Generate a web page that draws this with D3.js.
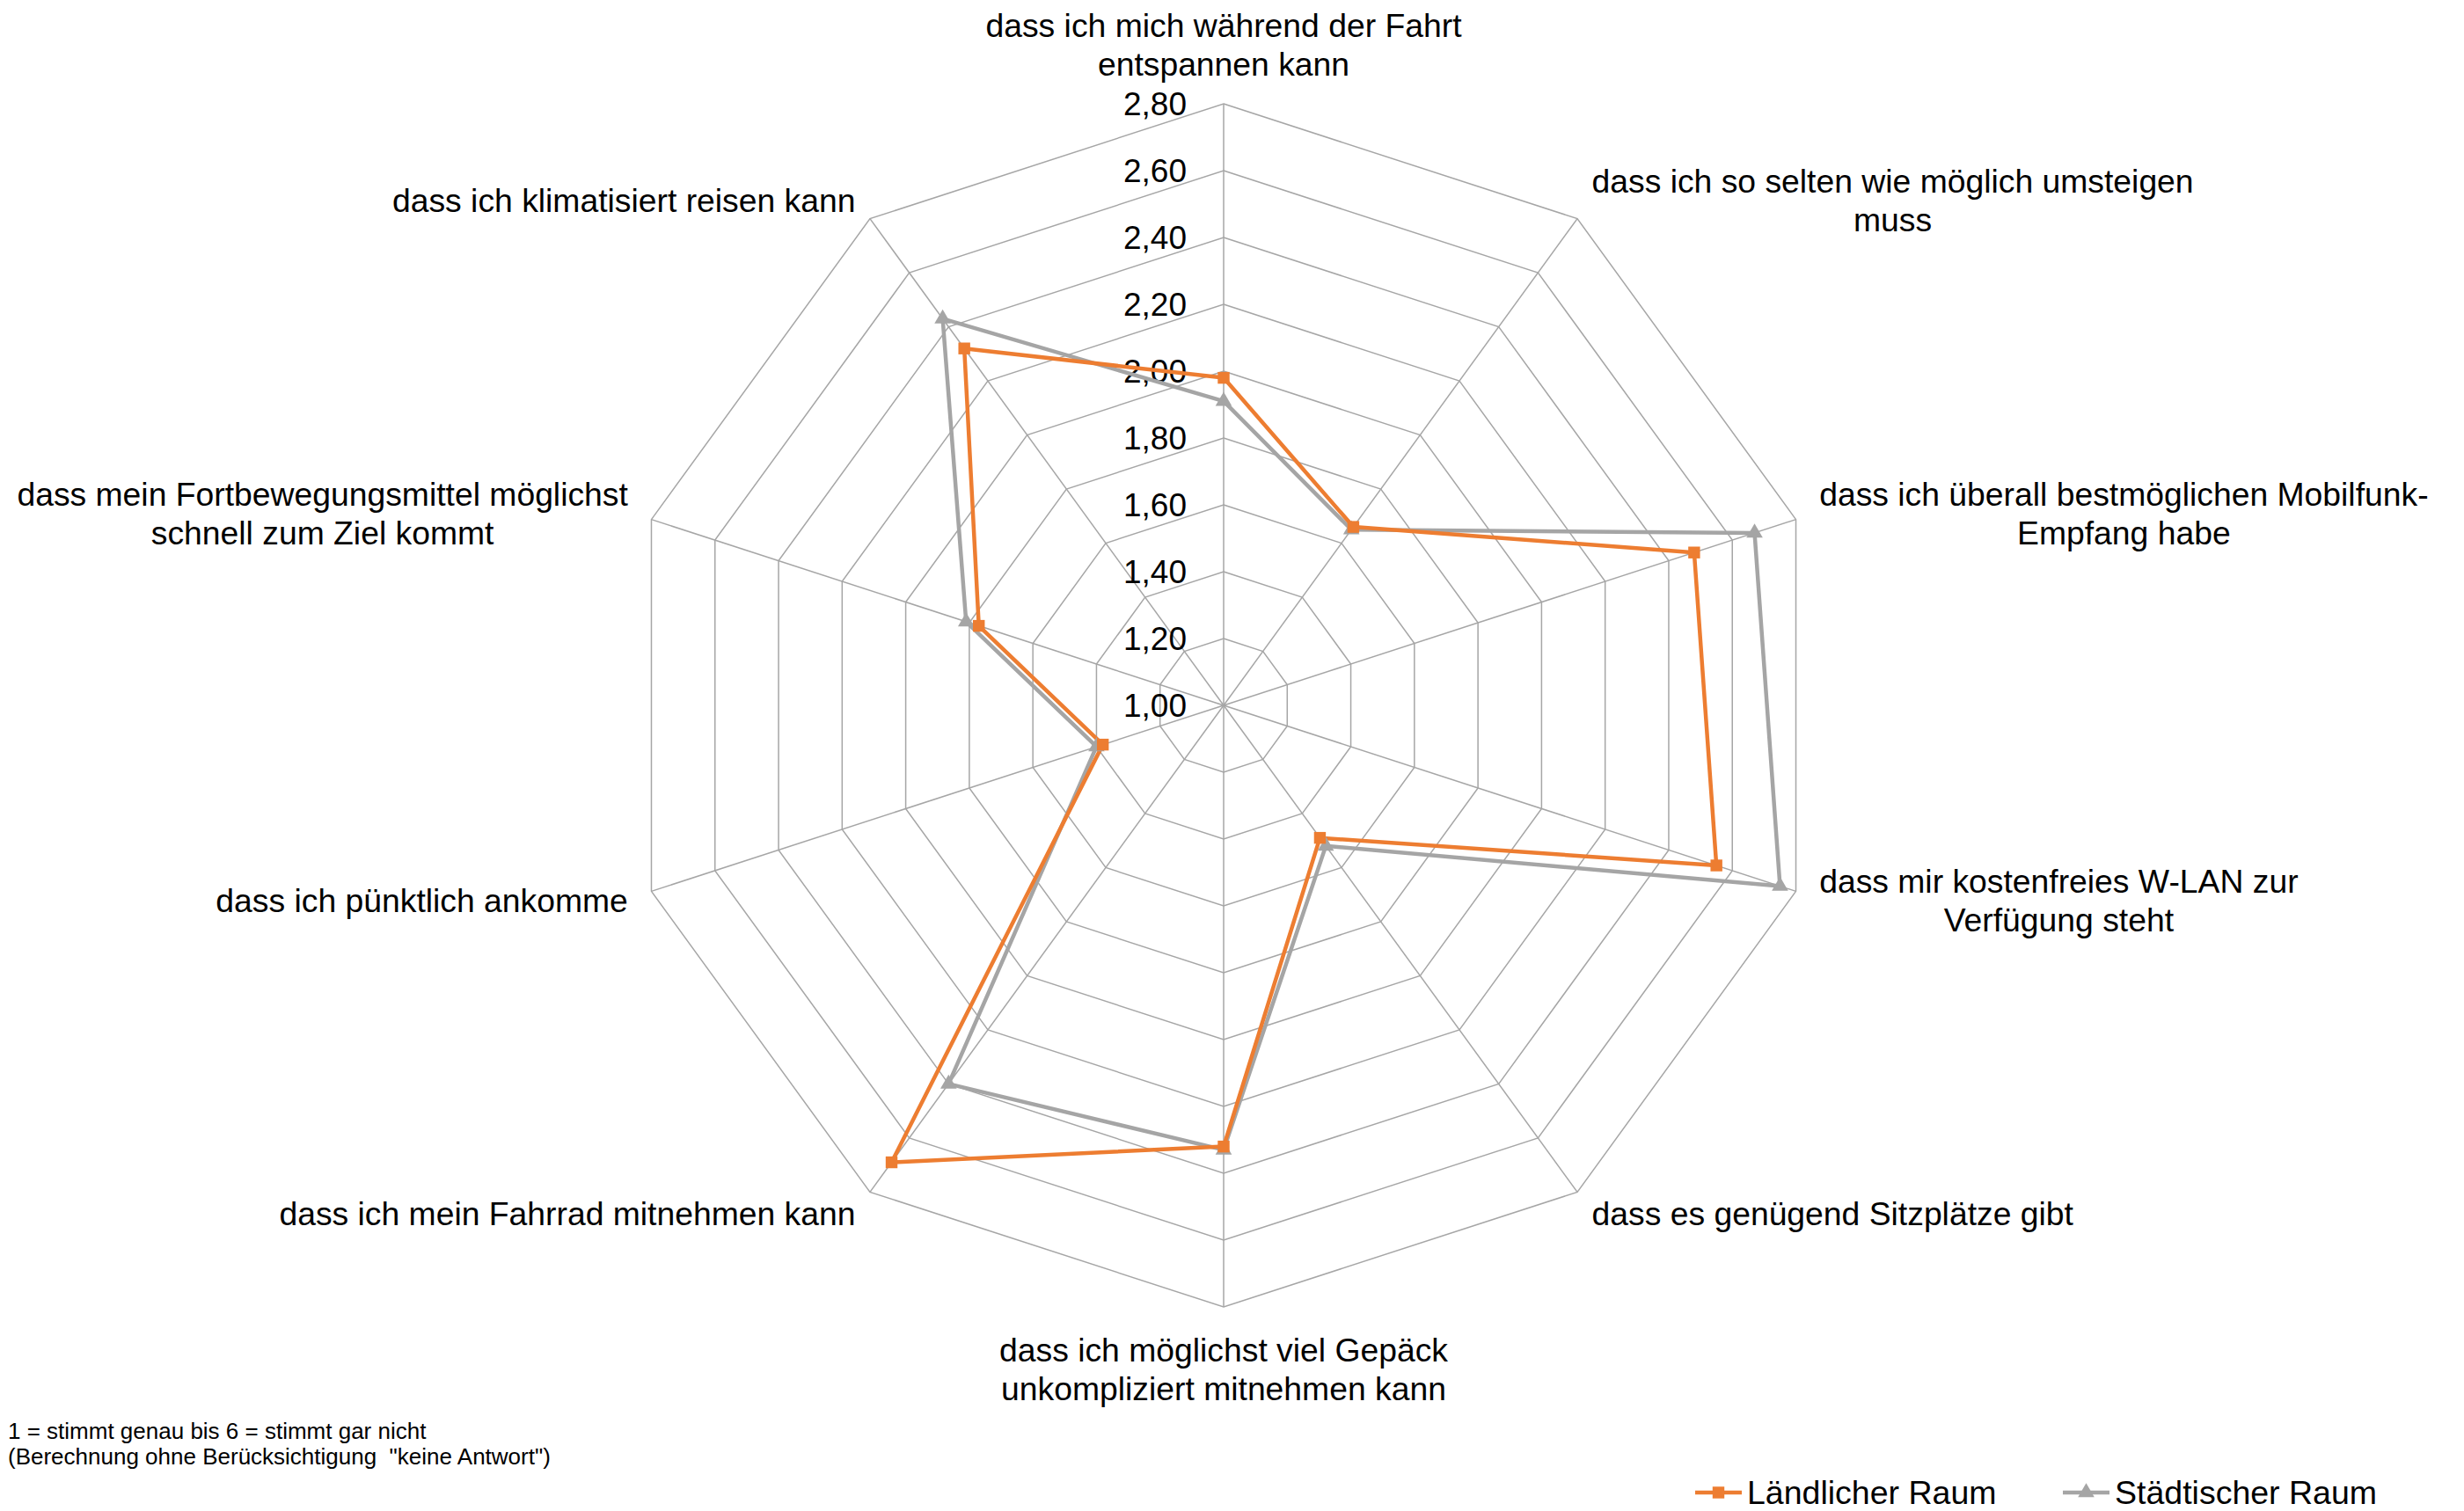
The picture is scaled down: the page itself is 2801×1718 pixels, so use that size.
<!DOCTYPE html>
<html>
<head>
<meta charset="utf-8">
<script src="https://cdn.jsdelivr.net/npm/d3@7"></script>
<style>
  body { margin: 0; background: #fff; }
  svg { display: block; font-family: "Liberation Sans", Arial, sans-serif; }
</style>
</head>
<body>
<svg id="chart" width="2801" height="1718"></svg>
<script>
// categories, clockwise from the top (one array entry per text line)
var categories = [
  ["dass ich mich während der Fahrt", "entspannen kann"],
  ["dass ich so selten wie möglich umsteigen", "muss"],
  ["dass ich überall bestmöglichen Mobilfunk-", "Empfang habe"],
  ["dass mir kostenfreies W-LAN zur", "Verfügung steht"],
  ["dass es genügend Sitzplätze gibt"],
  ["dass ich möglichst viel Gepäck", "unkompliziert mitnehmen kann"],
  ["dass ich mein Fahrrad mitnehmen kann"],
  ["dass ich pünktlich ankomme"],
  ["dass mein Fortbewegungsmittel möglichst", "schnell zum Ziel kommt"],
  ["dass ich klimatisiert reisen kann"]
];

var laendlich = [1.98, 1.66, 2.48, 2.55, 1.49, 2.32, 2.69, 1.38, 1.77, 2.32];
var staedtisch = [1.91, 1.65, 2.67, 2.75, 1.52, 2.33, 2.40, 1.40, 1.81, 2.43];

var seriesNames = ["Ländlicher Raum", "Städtischer Raum"];
var tickValues = [1.0, 1.2, 1.4, 1.6, 1.8, 2.0, 2.2, 2.4, 2.6, 2.8];
var footnote = ["1 = stimmt genau bis 6 = stimmt gar nicht",
                "(Berechnung ohne Berücksichtigung  \"keine Antwort\")"];

var orange = "#ED7D31", grey = "#A5A5A5", gridColor = "#A6A6A6";

var svg = d3.select("#chart");
var cx = 1391, cy = 802, R = 684;

var r = d3.scaleLinear().domain([1, 2.8]).range([0, R]);
var angle = d3.scaleLinear().domain([0, categories.length]).range([0, 2 * Math.PI]);

function px(i, v) { return cx + Math.sin(angle(i)) * r(v); }
function py(i, v) { return cy - Math.cos(angle(i)) * r(v); }

var g = svg.append("g").attr("transform", "translate(" + cx + "," + cy + ")");

// rings
var ring = d3.lineRadial()
  .angle(function(d, i) { return angle(i); })
  .radius(function(d) { return r(d); })
  .curve(d3.curveLinearClosed);

g.selectAll(".ring")
  .data(tickValues.slice(1))
  .enter().append("path")
  .attr("class", "ring")
  .attr("d", function(t) { return ring(categories.map(function() { return t; })); })
  .style("fill", "none")
  .style("stroke", gridColor)
  .style("stroke-width", 1.5);

// spokes
g.selectAll(".spoke")
  .data(categories)
  .enter().append("line")
  .attr("x1", 0).attr("y1", 0)
  .attr("x2", function(d, i) { return px(i, 2.8) - cx; })
  .attr("y2", function(d, i) { return py(i, 2.8) - cy; })
  .style("stroke", gridColor)
  .style("stroke-width", 1.5);

// tick labels
g.selectAll(".tick")
  .data(tickValues)
  .enter().append("text")
  .attr("x", -42)
  .attr("y", function(d) { return -r(d); })
  .attr("dy", "0.35em")
  .attr("text-anchor", "end")
  .style("font-size", "37px")
  .style("fill", "#000")
  .text(function(d) { return d3.format(".2f")(d).replace(".", ","); });

// series
var series = [
  {name: seriesNames[0], values: laendlich, color: orange, symbol: d3.symbolSquare, size: 180},
  {name: seriesNames[1], values: staedtisch, color: grey, symbol: d3.symbolTriangle, size: 150}
];

var line = d3.lineRadial()
  .angle(function(d, i) { return angle(i); })
  .radius(function(d) { return r(d); })
  .curve(d3.curveLinearClosed);

// draw grey first, orange on top where they overlap
series.slice().reverse().forEach(function(s) {
  g.append("path")
    .attr("d", line(s.values))
    .style("fill", "none")
    .style("stroke", s.color)
    .style("stroke-width", 4.5)
    .style("stroke-linejoin", "round");
});
series.slice().reverse().forEach(function(s) {
  g.selectAll(null)
    .data(s.values)
    .enter().append("path")
    .attr("transform", function(d, i) {
      return "translate(" + (px(i, d) - cx) + "," + (py(i, d) - cy) + ")";
    })
    .attr("d", d3.symbol().type(s.symbol).size(s.size))
    .style("fill", s.color);
});

// category labels
var lineH = 44, gap = 28;
categories.forEach(function(lines, i) {
  var a = angle(i), sx = Math.sin(a), cyA = Math.cos(a);
  var x = px(i, 2.8) + sx * gap;
  var y = py(i, 2.8) - cyA * gap + 2;
  var blockH = lines.length * lineH;
  var centerY = Math.abs(cyA) > 0.99 ? y - cyA * (blockH / 2 - 3) : y;
  // width of widest line, to center lines inside the block
  var t = svg.append("text").style("font-size", "37.3px");
  var widths = lines.map(function(l) { t.text(l); return t.node().getComputedTextLength(); });
  t.remove();
  var w = d3.max(widths);
  var midX = Math.abs(sx) < 0.01 ? x : (sx > 0 ? x + w / 2 : x - w / 2);
  var txt = svg.append("text")
    .attr("text-anchor", "middle")
    .style("font-size", "37.3px")
    .style("fill", "#000");
  lines.forEach(function(l, k) {
    txt.append("tspan")
      .attr("x", midX)
      .attr("y", centerY - blockH / 2 + lineH * (k + 0.5))
      .attr("dy", "0.35em")
      .text(l);
  });
});

// footnote
svg.selectAll(".foot")
  .data(footnote)
  .enter().append("text")
  .attr("x", 9)
  .attr("y", function(d, i) { return 1627 + i * 29; })
  .attr("dy", "0.35em")
  .style("font-size", "26px")
  .style("white-space", "pre")
  .style("fill", "#000")
  .text(function(d) { return d; });

// legend
var legend = svg.append("g").attr("transform", "translate(1927,1697)");
var legendX = d3.scaleOrdinal().domain(seriesNames).range([0, 418]);
series.forEach(function(s) {
  var lg = legend.append("g").attr("transform", "translate(" + legendX(s.name) + ",0)");
  lg.append("line")
    .attr("x1", 0).attr("x2", 53)
    .style("stroke", s.color).style("stroke-width", 4.5);
  lg.append("path")
    .attr("transform", "translate(26.5,0)")
    .attr("d", d3.symbol().type(s.symbol).size(s.size))
    .style("fill", s.color);
  lg.append("text")
    .attr("x", 59)
    .attr("dy", "0.35em")
    .style("font-size", "37.5px")
    .style("fill", "#000")
    .text(s.name);
});
</script>
</body>
</html>
